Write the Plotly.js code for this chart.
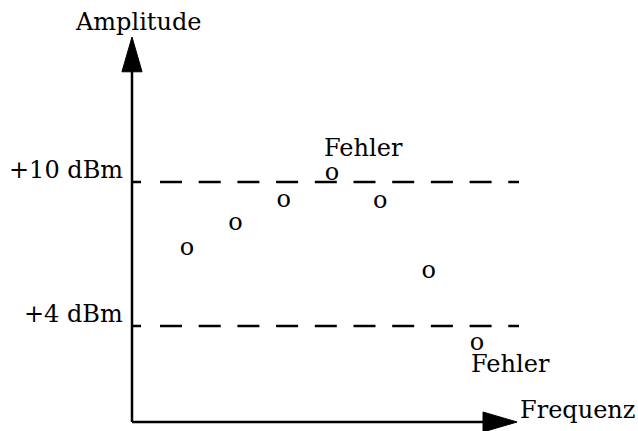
<!DOCTYPE html>
<html>
<head>
<meta charset="utf-8">
<script src="https://cdn.plot.ly/plotly-3.0.1.min.js"></script>
<style>
  html, body { margin: 0; padding: 0; background: white; }
</style>
</head>
<body>
<div id="chart" style="width:638px;height:431px;"></div>
<script>
// Measured points (frequency step, amplitude in dBm)
let freqStep = [1, 2, 3, 4, 5, 6, 7];
let amplitude = [7.2, 8.25, 9.2, 10.35, 9.15, 6.25, 3.25];

// Limit lines
let limitValues = [10, 4];
let limitLabels = ['+10 dBm', '+4 dBm'];

// Points that violate a limit, and where the label goes
let errorPoints = [3, 6];
let errorSides = ['above', 'below'];
let errorText = 'Fehler';

let xLabel = 'Frequenz';
let yLabel = 'Amplitude';

// Axis ranges
let rangeX = { min: -0.14, max: 7.87 };
let rangeY = { min: 0, max: 16 };

const FONT = { family: 'DejaVu Serif, serif', size: 24, color: 'black' };

function initializeApp() {
    let trace = {
        x: freqStep,
        y: amplitude,
        mode: 'text',
        type: 'scatter',
        text: freqStep.map(() => 'o'),
        textposition: 'middle center',
        textfont: FONT,
        hoverinfo: 'none'
    };

    // Long dash pattern, first dash is cut short by the axis
    let dashPattern = '9px,19px' + ',22px,16.7px'.repeat(12);

    let shapes = [];

    // Dashed limit lines
    limitValues.forEach(v => {
        shapes.push({
            type: 'line', xref: 'paper', yref: 'y',
            x0: 0, x1: 1, y0: v, y1: v,
            line: { color: 'black', width: 2.5, dash: dashPattern }
        });
    });

    // Axis lines with arrow heads
    shapes.push({
        type: 'line', xref: 'paper', yref: 'paper',
        x0: 0, x1: 0, y0: 0, y1: 0.92,
        line: { color: 'black', width: 2.5 }
    });
    shapes.push({
        type: 'line', xref: 'paper', yref: 'paper',
        x0: 0, x1: 0.92, y0: 0, y1: 0,
        line: { color: 'black', width: 2.5 }
    });
    // Vertical arrow head: 20px wide, 34px tall
    shapes.push({
        type: 'path', xref: 'paper', yref: 'paper',
        path: 'M -0.026,0.912 L 0,1.0026 L 0.026,0.912 Z',
        fillcolor: 'black', line: { color: 'black', width: 1 }
    });
    // Horizontal arrow head
    shapes.push({
        type: 'path', xref: 'paper', yref: 'paper',
        path: 'M 0.907,-0.026 L 0.995,0 L 0.907,0.026 Z',
        fillcolor: 'black', line: { color: 'black', width: 1 }
    });

    let annotations = [];

    limitValues.forEach((v, i) => {
        annotations.push({
            xref: 'paper', yref: 'y', x: 0, y: v,
            xanchor: 'right', yanchor: 'bottom',
            xshift: -7, yshift: -4,
            text: limitLabels[i], showarrow: false, font: FONT
        });
    });

    errorPoints.forEach((idx, i) => {
        let above = errorSides[i] === 'above';
        annotations.push({
            xref: 'x', yref: 'y', x: freqStep[idx], y: amplitude[idx],
            xanchor: 'left', yanchor: above ? 'bottom' : 'top',
            xshift: above ? -10 : -8, yshift: above ? 10 : -4,
            text: errorText, showarrow: false, font: FONT
        });
    });

    annotations.push({
        xref: 'paper', yref: 'paper', x: 0, y: 1,
        xanchor: 'center', yanchor: 'bottom', xshift: 6, yshift: 0,
        text: yLabel, showarrow: false, font: FONT
    });
    annotations.push({
        xref: 'paper', yref: 'paper', x: 1, y: 0,
        xanchor: 'left', yanchor: 'bottom', xshift: -1, yshift: -4,
        text: xLabel, showarrow: false, font: FONT
    });

    let layout = {
        width: 638,
        height: 431,
        autosize: false,
        margin: { l: 132, r: 119, t: 38, b: 9, pad: 0 },
        showlegend: false,
        font: FONT,
        xaxis: {
            range: [rangeX.min, rangeX.max],
            fixedrange: true, showticklabels: false,
            showgrid: false, zeroline: false, showline: false, ticks: ''
        },
        yaxis: {
            range: [rangeY.min, rangeY.max],
            fixedrange: true, showticklabels: false,
            showgrid: false, zeroline: false, showline: false, ticks: ''
        },
        shapes: shapes,
        annotations: annotations,
        plot_bgcolor: 'white',
        paper_bgcolor: 'white'
    };

    Plotly.newPlot('chart', [trace], layout, { displayModeBar: false, staticPlot: true });
}

document.addEventListener('DOMContentLoaded', initializeApp);
</script>
</body>
</html>
